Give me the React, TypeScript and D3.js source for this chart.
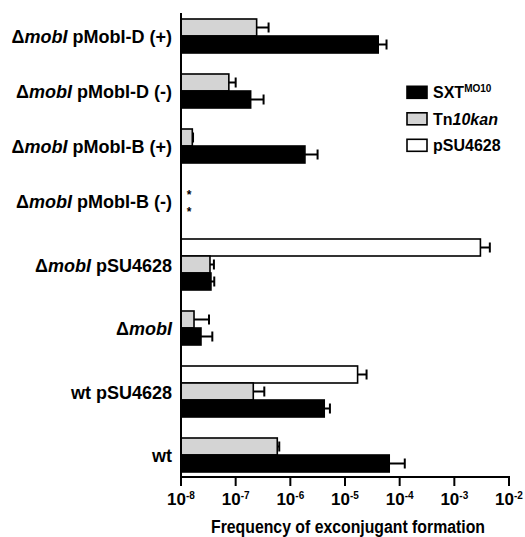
import React from "react";
import * as d3 from "d3";

const categories = [
  "ΔmobI pMobI-D (+)",
  "ΔmobI pMobI-D (-)",
  "ΔmobI pMobI-B (+)",
  "ΔmobI pMobI-B (-)",
  "ΔmobI pSU4628",
  "ΔmobI",
  "wt pSU4628",
  "wt",
];

// null = not tested, 0 = below detection (asterisk)
const pSUValues: (number | null)[] = [null, null, null, null, 3.0e-3, null, 1.7e-5, null];
const pSUUpper: (number | null)[] = [null, null, null, null, 4.46e-3, null, 2.48e-5, null];
const tnValues: (number | null)[] = [2.42e-7, 7.5e-8, 1.61e-8, 0, 3.39e-8, 1.73e-8, 2.1e-7, 5.77e-7];
const tnUpper: (number | null)[] = [4.0e-7, 1.0e-7, 1.66e-8, 0, 4.0e-8, 3.25e-8, 3.34e-7, 6.27e-7];
const sxtValues: (number | null)[] = [4.05e-5, 1.88e-7, 1.85e-6, 0, 3.53e-8, 2.32e-8, 4.17e-6, 6.44e-5];
const sxtUpper: (number | null)[] = [5.75e-5, 3.24e-7, 3.15e-6, 0, 4.06e-8, 3.74e-8, 5.3e-6, 1.24e-4];

const tickExponents = [-8, -7, -6, -5, -4, -3, -2];
const xTitle = "Frequency of exconjugant formation";

const series = [
  { key: "pSU4628", fill: "#ffffff", values: pSUValues, upper: pSUUpper },
  { key: "Tn10kan", fill: "#d4d4d4", values: tnValues, upper: tnUpper },
  { key: "SXT", fill: "#000000", values: sxtValues, upper: sxtUpper },
];
const legendOrder = ["SXT", "Tn10kan", "pSU4628"];

const FONT = "'Liberation Sans', Arial, Helvetica, sans-serif";

export default function App() {
  const W = 525, H = 537;
  const axisX = 181, axisRight = 509, axisTop = 13, axisY = 477;
  const x = d3.scaleLog().domain([1e-8, 1e-2]).range([axisX, axisRight]);

  // layout of rows: bar = 1 unit, gap between groups = gapU units
  const gapU = 21 / 17;
  type Row = { cat: number; s: number; u0: number };
  const rows: Row[] = [];
  const groups: { cat: number; u0: number; u1: number }[] = [];
  let u = 0;
  categories.forEach((_, ci) => {
    if (ci > 0) u += gapU;
    const start = u;
    series.forEach((s, si) => {
      if (s.values[ci] !== null) {
        rows.push({ cat: ci, s: si, u0: u });
        u += 1;
      }
    });
    groups.push({ cat: ci, u0: start, u1: u });
  });
  const y = d3.scaleLinear().domain([0, u]).range([19, 472]);
  const bh = y(1) - y(0);

  const ticks = tickExponents.map((e) => Math.pow(10, e));

  const renderLabel = (label: string) => {
    if (label.startsWith("Δ")) {
      const rest = label.slice(5);
      return (
        <>
          <tspan>Δ</tspan>
          <tspan fontStyle="italic">mobI</tspan>
          <tspan>{rest}</tspan>
        </>
      );
    }
    return <tspan>{label}</tspan>;
  };

  return (
    <svg width={W} height={H} style={{ position: "absolute", left: 0, top: 0, background: "#fff" }} fontFamily={FONT}>
      {/* bars */}
      {rows.map((r, i) => {
        const s = series[r.s];
        const v = s.values[r.cat] as number;
        const up = s.upper[r.cat] as number;
        const y0 = y(r.u0);
        const cy = y0 + bh / 2;
        if (v === 0) {
          return (
            <text key={i} x={axisX + 8} y={cy + 6} fontSize={12} fontWeight="bold" textAnchor="middle">*</text>
          );
        }
        return (
          <g key={i}>
            <rect x={axisX} y={y0} width={x(v) - axisX} height={bh} fill={s.fill} stroke="#000" strokeWidth={1.6} />
            <line x1={x(v)} x2={x(up)} y1={cy} y2={cy} stroke="#000" strokeWidth={2} />
            <line x1={x(up)} x2={x(up)} y1={cy - 5} y2={cy + 5} stroke="#000" strokeWidth={2} />
          </g>
        );
      })}

      {/* axes */}
      <line x1={axisX} x2={axisX} y1={axisTop} y2={axisY + 1} stroke="#000" strokeWidth={2} />
      <line x1={axisX - 1} x2={axisRight + 1} y1={axisY} y2={axisY} stroke="#000" strokeWidth={2} />
      {ticks.map((t, i) => (
        <g key={i}>
          <line x1={x(t)} x2={x(t)} y1={axisY} y2={axisY + 9} stroke="#000" strokeWidth={2} />
          <text x={x(t)} y={505} textAnchor="middle" fontSize={17} fontWeight="bold">
            <tspan>10</tspan>
            <tspan fontSize={10} dy={-6}>{String(tickExponents[i])}</tspan>
          </text>
        </g>
      ))}
      <text x={(axisX + axisRight) / 2 + 3} y={533} textAnchor="middle" fontSize={17.5} fontWeight="bold" textLength={274} lengthAdjust="spacingAndGlyphs">{xTitle}</text>

      {/* category labels */}
      {groups.map((g) => (
        <text key={g.cat} x={172} y={(y(g.u0) + y(g.u1)) / 2 + 7} textAnchor="end" fontSize={18} fontWeight="bold">
          {renderLabel(categories[g.cat])}
        </text>
      ))}

      {/* legend */}
      {legendOrder.map((k, i) => {
        const s = series.find((d) => d.key === k)!;
        const base = 98.3 + i * 26.5;
        return (
          <g key={k}>
            <rect x={407} y={base - 12} width={20} height={12} fill={s.fill} stroke="#000" strokeWidth={1.6} />
            <text x={433} y={base} fontSize={16} fontWeight="bold">
              {k === "SXT" && (
                <>
                  <tspan>SXT</tspan>
                  <tspan fontSize={10} dy={-6}>MO10</tspan>
                </>
              )}
              {k === "Tn10kan" && (
                <>
                  <tspan>Tn</tspan>
                  <tspan fontStyle="italic">10kan</tspan>
                </>
              )}
              {k === "pSU4628" && <tspan>pSU4628</tspan>}
            </text>
          </g>
        );
      })}
    </svg>
  );
}
